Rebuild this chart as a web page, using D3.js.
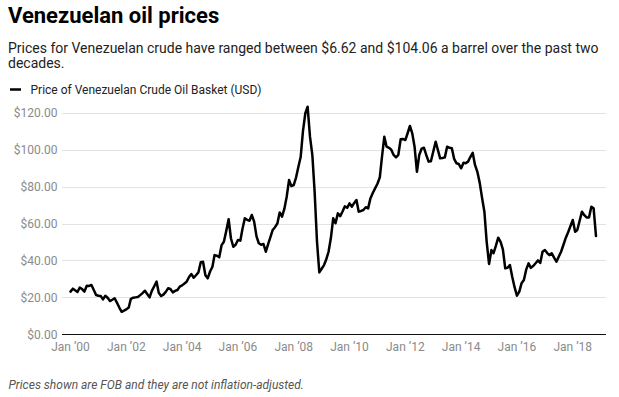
<!DOCTYPE html>
<html>
<head>
<meta charset="utf-8">
<script src="https://cdn.jsdelivr.net/npm/d3@7"></script>
<style>
  html, body { margin: 0; padding: 0; background: #fff; }
  svg { display: block; font-family: Roboto, "Noto Sans", sans-serif; }
</style>
</head>
<body>
<svg id="chart" width="619" height="397"></svg>
<script>
// ---- Data ----
const startMonth = "2000-01";
const prices = [
  // 2000
  23.1, 24.7, 23.8, 22.9, 25.3, 24.5, 23.1, 26.3, 26.2, 26.7, 24.0, 21.3,
  // 2001
  20.9, 20.7, 18.9, 20.9, 19.8, 18.0, 18.7, 19.5, 17.0, 14.5, 12.2, 12.8,
  // 2002
  13.5, 14.5, 19.2, 19.8, 20.0, 20.2, 21.2, 22.3, 23.6, 21.8, 20.0, 23.5,
  // 2003
  26.0, 28.5, 22.5, 20.7, 21.5, 23.0, 24.9, 24.5, 22.7, 23.5, 24.0, 25.8,
  // 2004
  26.5, 27.5, 28.5, 31.0, 32.6, 30.6, 32.0, 33.5, 39.0, 39.3, 32.0, 30.3,
  // 2005
  34.0, 36.6, 42.9, 42.5, 41.7, 48.3, 50.1, 56.0, 62.3, 52.0, 47.4, 48.5,
  // 2006
  51.1, 50.7, 57.0, 62.8, 62.0, 61.5, 64.6, 61.0, 53.0, 49.3, 48.5, 48.9,
  // 2007
  44.7, 49.0, 52.5, 56.5, 58.0, 60.0, 66.0, 63.7, 68.0, 74.5, 83.5, 80.3,
  // 2008
  80.8, 85.0, 90.5, 96.0, 110.0, 119.7, 123.2, 107.0, 97.0, 77.0, 50.0, 33.5,
  // 2009
  35.5, 37.5, 40.5, 44.7, 52.0, 62.8, 60.1, 65.5, 64.0, 66.5, 69.3, 68.5,
  // 2010
  70.9, 69.1, 71.0, 72.7, 66.4, 66.8, 67.3, 68.8, 68.2, 73.6, 76.5, 79.0,
  // 2011
  81.5, 85.0, 96.0, 107.0, 101.6, 101.0, 100.0, 97.1, 95.8, 97.1, 105.6, 105.8,
  // 2012
  105.2, 109.0, 112.8, 108.8, 101.6, 88.0, 97.1, 100.5, 101.0, 97.1, 93.5, 93.7,
  // 2013
  99.0, 104.3, 100.0, 95.3, 95.5, 95.8, 101.6, 101.0, 100.7, 95.0, 92.6, 92.2,
  // 2014
  89.9, 92.9, 92.6, 93.5, 96.0, 98.3, 91.7, 88.0, 82.0, 74.0, 66.4, 50.0,
  // 2015
  38.1, 45.6, 43.9, 48.0, 52.3, 50.1, 46.0, 35.7, 36.0, 37.5, 31.0, 25.5,
  // 2016
  20.9, 23.1, 27.6, 29.4, 35.0, 38.4, 36.0, 37.0, 38.5, 40.0, 38.6, 44.7,
  // 2017
  45.6, 44.0, 42.9, 43.9, 41.5, 39.3, 42.0, 44.7, 48.5, 52.2, 55.3, 58.5,
  // 2018
  61.9, 55.5, 56.5, 61.5, 66.4, 64.5, 63.3, 63.3, 69.1, 68.2, 53.2
];
const xTickYears = [2000, 2002, 2004, 2006, 2008, 2010, 2012, 2014, 2016, 2018];
const xTickLabels = ["Jan \u201900", "Jan \u201902", "Jan \u201904", "Jan \u201906", "Jan \u201908",
                     "Jan \u201910", "Jan \u201912", "Jan \u201914", "Jan \u201916", "Jan \u201918"];
const yTicks = [0, 20, 40, 60, 80, 100, 120];
const yTickLabels = ["$0.00", "$20.00", "$40.00", "$60.00", "$80.00", "$100.00", "$120.00"];

const titleText = "Venezuelan oil prices";
const subtitleLines = [
  "Prices for Venezuelan crude have ranged between $6.62 and $104.06 a barrel over the past two",
  "decades."
];
const legendText = "Price of Venezuelan Crude Oil Basket (USD)";
const noteText = "Prices shown are FOB and they are not inflation-adjusted.";

// ---- Build ----
const parseMonth = d3.timeParse("%Y-%m");
const start = parseMonth(startMonth);
const data = prices.map((v, i) => ({ date: d3.timeMonth.offset(start, i), value: v }));

const svg = d3.select("#chart");

const plotLeft = 62, plotRight = 606;
const x = d3.scaleTime()
  .domain([start, data[data.length - 1].date])
  .range([70.5, 596]);
const y = d3.scaleLinear().domain([0, 120]).range([334.3, 112.7]);

// Title & subtitle
svg.append("text")
  .attr("x", 8).attr("y", 22.7)
  .attr("font-size", 22).attr("font-weight", 700).attr("fill", "#000")
  .text(titleText);

svg.append("g").selectAll("text").data(subtitleLines).join("text")
  .attr("x", 8).attr("y", (d, i) => 53.3 + i * 14.6)
  .attr("font-size", 14).attr("fill", "#222")
  .text(d => d);

// Legend
const lg = svg.append("g");
lg.append("line").attr("x1", 10).attr("x2", 21).attr("y1", 89.5).attr("y2", 89.5)
  .attr("stroke", "#000").attr("stroke-width", 2.5);
lg.append("text").attr("x", 30.5).attr("y", 94.2)
  .attr("font-size", 12).attr("fill", "#222").text(legendText);

// Gridlines + y labels
const yAxis = svg.append("g");
yAxis.selectAll("line").data(yTicks.filter(d => d > 0)).join("line")
  .attr("x1", plotLeft).attr("x2", plotRight)
  .attr("y1", d => Math.round(y(d)) + 0.5).attr("y2", d => Math.round(y(d)) + 0.5)
  .attr("stroke", "#e3e3e3").attr("stroke-width", 1);
yAxis.selectAll("text").data(yTicks).join("text")
  .attr("x", 57.5).attr("y", d => y(d)).attr("dy", "0.35em")
  .attr("text-anchor", "end").attr("font-size", 12).attr("fill", "#8a8a8a")
  .text((d, i) => yTickLabels[i]);

// X axis
svg.append("line")
  .attr("x1", plotLeft).attr("x2", plotRight)
  .attr("y1", Math.round(y(0)) + 0.5).attr("y2", Math.round(y(0)) + 0.5)
  .attr("stroke", "#111").attr("stroke-width", 1.2);

svg.append("g").selectAll("text").data(xTickYears).join("text")
  .attr("x", d => x(new Date(d, 0, 1)))
  .attr("y", 351)
  .attr("text-anchor", "middle").attr("font-size", 12).attr("fill", "#8a8a8a")
  .text((d, i) => xTickLabels[i]);

// Line
const line = d3.line().x(d => x(d.date)).y(d => y(d.value));
svg.append("path").datum(data)
  .attr("d", line)
  .attr("fill", "none").attr("stroke", "#000")
  .attr("stroke-width", 2.5).attr("stroke-linejoin", "round").attr("stroke-linecap", "round");

// Note
svg.append("text")
  .attr("x", 8.5).attr("y", 388.5)
  .attr("font-size", 12).attr("font-style", "italic").attr("fill", "#555")
  .text(noteText);
</script>
</body>
</html>
